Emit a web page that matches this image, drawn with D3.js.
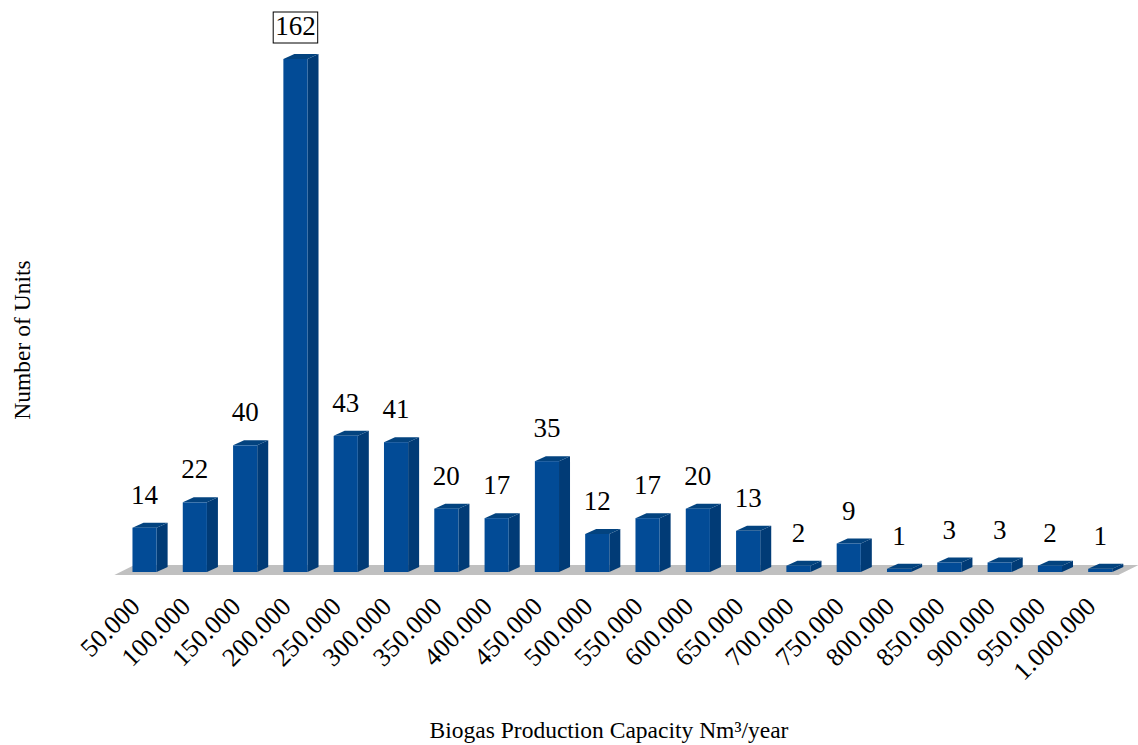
<!DOCTYPE html>
<html>
<head>
<meta charset="utf-8">
<script src="https://cdn.jsdelivr.net/npm/d3@7"></script>
<style>
  html, body { margin: 0; padding: 0; background: #fff; }
  svg { display: block; font-family: "Liberation Serif", "Times New Roman", serif; }
</style>
</head>
<body>
<svg id="chart" width="1138" height="745"></svg>
<script>
// Biogas plants grouped by production capacity (Nm³/year)
const categories = ["50.000", "100.000", "150.000", "200.000", "250.000", "300.000", "350.000",
  "400.000", "450.000", "500.000", "550.000", "600.000", "650.000", "700.000", "750.000",
  "800.000", "850.000", "900.000", "950.000", "1.000.000"];
const units = [14, 22, 40, 162, 43, 41, 20, 17, 35, 12, 17, 20, 13, 2, 9, 1, 3, 3, 2, 1];
const highlighted = ["200.000"];

const xTitle = "Biogas Production Capacity Nm³/year";
const yTitle = "Number of Units";

const svg = d3.select("#chart");
const baseY = 572;

const x = d3.scaleBand()
  .domain(categories)
  .range([119.4, 1125.4])
  .paddingInner(0.52)
  .paddingOuter(0.26);

const y = d3.scaleLinear().domain([0, 180]).range([baseY, 2]);

// depth of the pseudo-3D bars
const dx = 11, dy = 5;
const bw = x.bandwidth();

const colFront = "#024b96", colSide = "#013b76", colTop = "#03437f";

// floor plane
const xr = x.range();
const fx0 = xr[0] - 5, fx1 = xr[1] - 7, fy = baseY + 3;
svg.append("polygon")
  .attr("points", [[fx0, fy], [fx0 + 20, fy - 10], [fx1 + 20, fy - 10], [fx1, fy]].join(" "))
  .attr("fill", "#c0c0c0");

const data = categories.map((c, i) => ({ c, v: units[i] }));

const bars = svg.append("g").selectAll("g").data(data).join("g");

bars.append("polygon")
  .attr("points", d => {
    const x0 = x(d.c) + bw, yt = y(d.v);
    return [[x0, yt], [x0 + dx, yt - dy], [x0 + dx, baseY - dy], [x0, baseY]].join(" ");
  })
  .attr("fill", colSide);

bars.append("polygon")
  .attr("points", d => {
    const x0 = x(d.c), yt = y(d.v);
    return [[x0, yt], [x0 + dx, yt - dy], [x0 + bw + dx, yt - dy], [x0 + bw, yt]].join(" ");
  })
  .attr("fill", colTop);

bars.append("rect")
  .attr("x", d => x(d.c))
  .attr("y", d => y(d.v))
  .attr("width", bw)
  .attr("height", d => baseY - y(d.v))
  .attr("fill", colFront);

// value labels
const labels = svg.append("g").selectAll("g").data(data).join("g")
  .attr("transform", d => `translate(${x(d.c) + bw / 2},${y(d.v) - 24})`);

labels.append("text")
  .attr("text-anchor", "middle")
  .attr("font-size", 27)
  .attr("fill", "#000")
  .text(d => d.v)
  .each(function (d) {
    if (highlighted.includes(d.c)) {
      const b = this.getBBox();
      d3.select(this.parentNode).insert("rect", "text")
        .attr("x", b.x - 2).attr("y", b.y + 1)
        .attr("width", b.width + 4).attr("height", b.height + 1)
        .attr("fill", "#fff").attr("stroke", "#000").attr("stroke-width", 1);
    }
  });

// category axis labels
svg.append("g").selectAll("text").data(categories).join("text")
  .attr("transform", c => `translate(${x(c) + bw / 2 - 3},608) rotate(-45)`)
  .attr("text-anchor", "end")
  .attr("font-size", 26)
  .attr("fill", "#000")
  .text(c => c);

// axis titles
svg.append("text")
  .attr("x", 609).attr("y", 738)
  .attr("text-anchor", "middle")
  .attr("font-size", 23.5)
  .text(xTitle);

svg.append("text")
  .attr("transform", "translate(30,340) rotate(-90)")
  .attr("text-anchor", "middle")
  .attr("font-size", 23.5)
  .text(yTitle);
</script>
</body>
</html>
